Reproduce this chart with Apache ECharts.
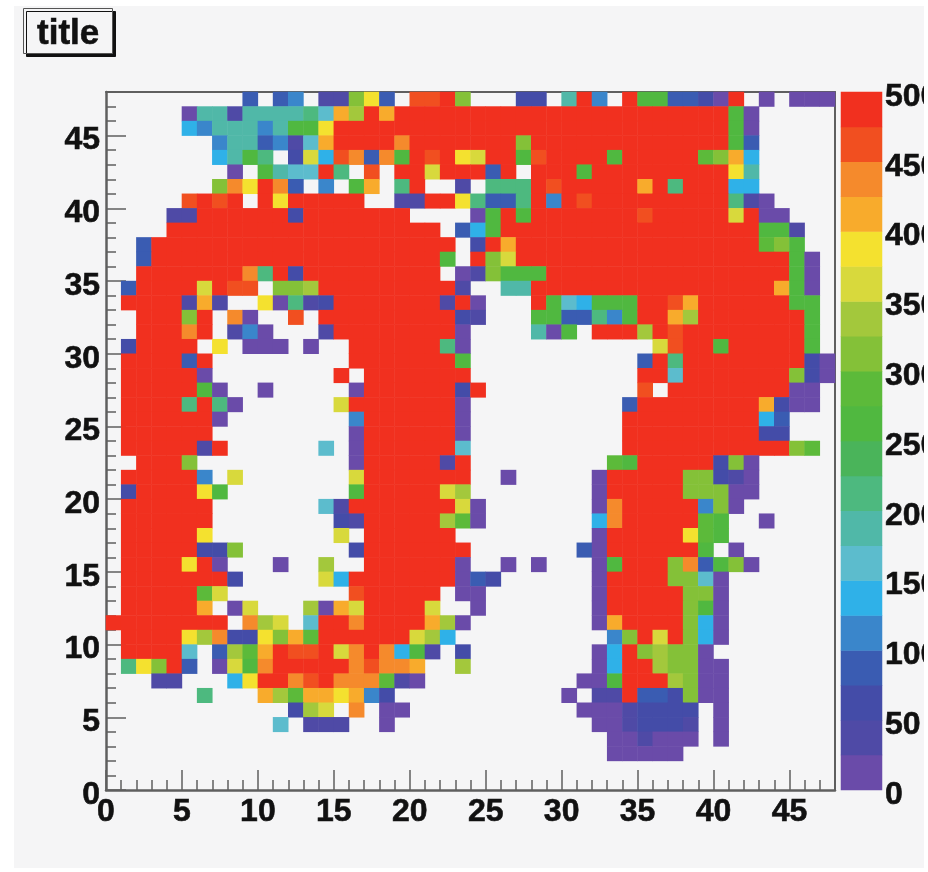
<!DOCTYPE html>
<html><head><meta charset="utf-8">
<style>html,body{margin:0;padding:0;background:#fff}#c{width:924px;height:872px}</style>
<script src="https://cdn.jsdelivr.net/npm/echarts@6/dist/echarts.min.js"></script>
</head><body><div id="c"></div>
<script>
const xTicks=[0,5,10,15,20,25,30,35,40,45];
const yTicks=[0,5,10,15,20,25,30,35,40,45];
const zTicks=[0,50,100,150,200,250,300,350,400,450,500];
const levelValues=[12.5,37.5,62.5,87.5,112.5,137.5,162.5,187.5,212.5,237.5,262.5,287.5,312.5,337.5,362.5,387.5,412.5,437.5,462.5,487.5];
const palette=['#6a4ba9','#4f4aa6','#444ca8','#3a5cb2','#3a86cb','#2fb1e8','#5cbccd','#50b8a8','#4db97f','#4ab45a','#50b840','#5cba3a','#84c138','#a3c83c','#d8d93c','#f4e12f','#f8ab2c','#f58a2c','#f14f20','#f1301f'];
const levelCodes='abcdefghijklmnopqrst';
// rows from y bin 47 (top) down to y bin 0; each letter is a 25-wide content level, '.' an empty bin
const rows=[
"..... ....d .de.b bmpd. sstm. ..cc. hte.t kkddc at.a. aaa",
"..... ahhbh hhhig qntqt ttttt ttttt ttttt ttttt tka.. ...",
"..... fehhh ehkkp ttttt ttttt ttttt ttttt ttttt tka.. ...",
"..... ..ehh debgq ttttr ttttt ttmtt ttttt ttttt tkd.. ...",
"..... ..fhk i.cof srdrk tstpo ttkst tttkt ttttl mqf.. ...",
"..... ...a. khggt i.s.t tottt dt.tt tkttt ttttt tph.. ...",
"..... ..mrp trd.e .kq.i t..b. iiits ttttt qtitt tff.. ...",
"..... stst. tpttt tt..b bttpi ddite tsttt ttttt tiba. ...",
"....b btttt ttctt ttttt ....a ktktt ttttt stttt totaa ...",
"....t ttttt ttttt ttttt tt.df ktttt ttttt ttttt tttkk b..",
"..dtt ttttt ttttt ttttt ttt.c tqttt ttttt ttttt tttlm k..",
"..dtt ttttt ttttt ttttt ttk.t mottt ttttt ttttt ttttt ka.",
"..ttt ttttr itctt ttttt tt.ab mkkkt ttttt ttttt ttttt ka.",
".dttt totss .mmnt ttttt tttb. .hhtt ttttt ttttt ttttq ka.",
".tttt bqb.. paibc ttttt ttbta ...tk gfkkk ttsqt ttttt kk.",
"..ttt mt.ra ..s.t ttttt tttcb ...kk ddiek ttqnt ttttt tk.",
"..ttt rt.be a...b ttttt ttta. ...ha k.ttt ntstt ttttt tk.",
".cttt t.p.a aa.a. .tttt ttia. ..... ..... .ostt ktttt tk.",
".tttt dt... ..... .tttt tttk. ..... ..... dtitt ttttt tca",
".tttt ta... ..... t.ttt tttt. ..... ..... ttgtt ttttt mca",
".tttt tka.. a.... .attt tttct ..... ..... s.ttt ttttt aa.",
".tttt itia. ..... otttt ttta. ..... ....d ttttt tttqc aa.",
".tttt tta.. ..... .ettt ttta. ..... ....t ttttt tttfd ...",
".tttt tt... ..... .attt ttta. ..... ....t ttttt tttcc ...",
".tttt tbt.. ....g .attt tttg. ..... ....t ttttt ttttt ml.",
"..ttt m.... ..... .attt ttbt. ..... ...lk ttttt cma.. ...",
".tttt te.o. ..... .ottt tttt. .a... ..att tttmm cba.. ...",
".cttt tpk.. ..... .kttt tton. ..... ..att tttmm maa.. ...",
".tttt tt... ....g btttt tttoa ..... ..art tttte ma... ...",
".tttt tt... ..... cbttt ttnla ..... ..frt ttttl k..a. ...",
".tttt tp... ..... o.ttt ttt.. ..... ..att tttpl k.... ...",
".tttt tccm. ..... .cttt tttt. ..... .datt ttttk .a... ...",
".tttt pta.. .a..n ..ttt ttta. .a.a. ..akt ttmrd kma.. ...",
".tttt tttc. ....o ftttt tttad c.... ..att ttmmg a.... ...",
".tttt tlo.. ..... .sttt tt.aa ..... ..att tttmm a.... ...",
".tttt tq.ao ...na qottt to..a ..... ..att tttmk a.... ...",
"ttttt ttt.r no.gt trttt tqna. ..... ..aqt tttmf a.... ...",
".tttt pnrcc pmqlt ttttt onf.. ..... ...em totmf a.... ...",
".tttt g.dnl qtsst ortrf kb.c. ..... ..aft mnmma ..... ...",
".ipmt d.aok rtttt trsrr q..n. ..... ..aft tnmma a.... ...",
"...bb ...fp ttrst rrrlb a.... ..... .aakt ttnma a.... ...",
"..... .i... qnlqq pqec. ..... ..... a.bbt ddcma a.... ...",
"..... ..... ..cno .r.aa ..... ..... .aaab cccc. a.... ...",
"..... ..... .g.bb b..a. ..... ..... ..aab cccb. a.... ...",
"..... ..... ..... ..... ..... ..... ...aa baaa. a.... ...",
"..... ..... ..... ..... ..... ..... ...aa aaa.. ..... ...",
"..... ..... ..... ..... ..... ..... ..... ..... ..... ...",
"..... ..... ..... ..... ..... ..... ..... ..... ..... ..."
];
const cells=[];
rows.forEach((row,r)=>{
  row.replace(/ /g,'').split('').forEach((ch,c)=>{
    const k=levelCodes.indexOf(ch);
    if(k>=0) cells.push([c,47-r,levelValues[k]]);
  });
});
const bins=Array.from({length:48},(_,i)=>String(i));
const pieces=palette.map((color,i)=>({min:i*25,max:(i+1)*25,color}));
const font={fontFamily:'"Liberation Sans",Arial,sans-serif',fontWeight:'bold',fontSize:32,color:'#111',textBorderColor:'#111',textBorderWidth:0.6};
const frame='#5f5f5f';
const hiddenCat=(data,extra)=>Object.assign({type:'category',data,show:false},extra||{});
const chart=echarts.init(document.getElementById('c'),null,{renderer:'canvas'});
chart.setOption({
  animation:false,
  backgroundColor:'#fff',
  graphic:[{type:'rect',z:-10,silent:true,shape:{x:14,y:6,width:912,height:862},style:{fill:'#f5f5f6'}}],
  title:{text:'title',left:24,top:9,padding:[8,13,2,13],backgroundColor:'#f5f5f6',borderColor:'#555',borderWidth:1,
    shadowColor:'#111',shadowBlur:0,shadowOffsetX:3,shadowOffsetY:3,
    textStyle:{fontFamily:font.fontFamily,fontWeight:'bold',fontSize:35,color:'#111',lineHeight:34,textBorderColor:'#111',textBorderWidth:0.6}},
  grid:[{left:106,top:92,width:729,height:698,outerBoundsMode:'none'},{left:841,top:92,width:41,height:698,outerBoundsMode:'none'}],
  visualMap:{type:'piecewise',show:false,seriesIndex:[0,1],pieces},
  xAxis:[
    hiddenCat(bins,{gridIndex:0}),
    {type:'value',gridIndex:0,min:0,max:48,interval:1,position:'bottom',axisLine:{show:false},splitLine:{show:false},
      axisLabel:{show:false},axisTick:{inside:true,length:10,lineStyle:{color:frame,width:1.5}}},
    {type:'value',gridIndex:0,min:0,max:48,position:'bottom',splitLine:{show:false},
      axisLine:{show:true,onZero:false,lineStyle:{color:frame,width:2.5}},
      axisTick:{inside:true,length:20,customValues:xTicks,lineStyle:{color:frame,width:1.5}},
      axisLabel:Object.assign({customValues:xTicks,margin:6},font)},
    {type:'value',gridIndex:0,min:0,max:48,position:'top',splitLine:{show:false},axisLabel:{show:false},axisTick:{show:false},
      axisLine:{show:true,onZero:false,lineStyle:{color:frame,width:2}}},
    hiddenCat(['bar'],{gridIndex:1})
  ],
  yAxis:[
    hiddenCat(bins,{gridIndex:0}),
    {type:'value',gridIndex:0,min:0,max:48,interval:1,position:'left',axisLine:{show:false},splitLine:{show:false},
      axisLabel:{show:false},axisTick:{inside:true,length:10,lineStyle:{color:frame,width:1.5}}},
    {type:'value',gridIndex:0,min:0,max:48,position:'left',splitLine:{show:false},
      axisLine:{show:true,onZero:false,lineStyle:{color:frame,width:2.5}},
      axisTick:{inside:true,length:20,customValues:yTicks,lineStyle:{color:frame,width:1.5}},
      axisLabel:Object.assign({customValues:yTicks,margin:6,verticalAlign:'top',lineHeight:10},font)},
    {type:'value',gridIndex:0,min:0,max:48,position:'right',splitLine:{show:false},axisLabel:{show:false},axisTick:{show:false},
      axisLine:{show:true,onZero:false,lineStyle:{color:frame,width:2}}},
    hiddenCat(levelValues.map(String),{gridIndex:1}),
    {type:'value',gridIndex:1,min:0,max:500,interval:50,position:'right',splitLine:{show:false},
      axisLine:{show:false,onZero:false},
      axisTick:{inside:true,length:20,customValues:zTicks,lineStyle:{color:'#222',width:1}},
      axisLabel:Object.assign({customValues:zTicks,margin:3,verticalAlign:'top',lineHeight:10,hideOverlap:false},font)}
  ],
  series:[
    {type:'heatmap',xAxisIndex:0,yAxisIndex:0,data:cells,progressive:0,silent:true,z:1},
    {type:'heatmap',xAxisIndex:4,yAxisIndex:4,data:levelValues.map((v,i)=>[0,i,v]),progressive:0,silent:true,z:1}
  ]
});
</script></body></html>
